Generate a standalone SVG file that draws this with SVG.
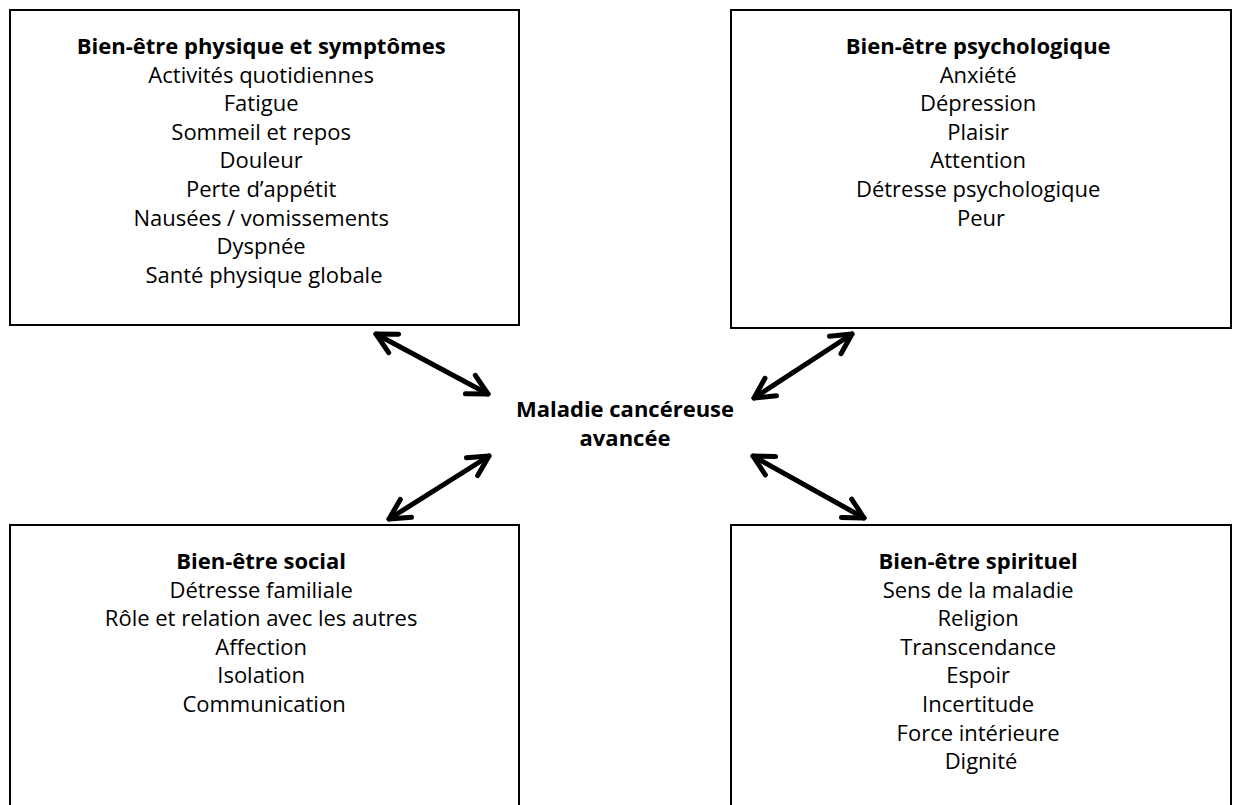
<svg xmlns="http://www.w3.org/2000/svg" width="1239" height="805" viewBox="0 0 1239 805">
<style>
.box{fill:#fff;stroke:#000;stroke-width:2}
.t{font-family:"Open Sans","Noto Sans",sans-serif;font-size:22px;fill:#000;text-anchor:middle}
.b{font-weight:bold}
.arr{fill:none;stroke:#000;stroke-width:5;stroke-linecap:round;marker-start:url(#ah);marker-end:url(#ah)}
</style>
<defs>
<marker id="ah" markerUnits="userSpaceOnUse" viewBox="-25 -15 30 30" markerWidth="30" markerHeight="30" refX="0" refY="0" orient="auto-start-reverse" overflow="visible">
<path d="M-20,-10.5 L0,0 L-20,10.5" fill="none" stroke="#000" stroke-width="5" stroke-linecap="round" stroke-linejoin="round"/>
</marker>
</defs>
<rect width="1239" height="805" fill="#fff"/>
<g id="physique">
<rect class="box" x="10" y="10" width="509" height="315"/>
<text class="t" x="264" y="54"><tspan class="b">Bien-être physique et symptômes</tspan>
<tspan x="264" dy="28.6">Activités quotidiennes</tspan>
<tspan x="264" dy="28.6">Fatigue</tspan>
<tspan x="264" dy="28.6">Sommeil et repos</tspan>
<tspan x="264" dy="28.6">Douleur</tspan>
<tspan x="264" dy="28.6">Perte d’appétit</tspan>
<tspan x="264" dy="28.6">Nausées / vomissements</tspan>
<tspan x="264" dy="28.6">Dyspnée</tspan>
<tspan x="264" dy="28.6">Santé physique globale</tspan></text>
</g>
<g id="psychologique">
<rect class="box" x="731" y="10" width="500" height="318"/>
<text class="t" x="981" y="54"><tspan class="b">Bien-être psychologique</tspan>
<tspan x="981" dy="28.6">Anxiété</tspan>
<tspan x="981" dy="28.6">Dépression</tspan>
<tspan x="981" dy="28.6">Plaisir</tspan>
<tspan x="981" dy="28.6">Attention</tspan>
<tspan x="981" dy="28.6">Détresse psychologique</tspan>
<tspan x="981" dy="28.6">Peur</tspan></text>
</g>
<g id="centre">
<text class="t b" x="625" y="417">Maladie cancéreuse</text>
<text class="t b" x="625" y="446">avancée</text>
</g>
<g id="social">
<rect class="box" x="10" y="525" width="509" height="300"/>
<text class="t" x="264" y="569"><tspan class="b">Bien-être social</tspan>
<tspan x="264" dy="28.6">Détresse familiale</tspan>
<tspan x="264" dy="28.6">Rôle et relation avec les autres</tspan>
<tspan x="264" dy="28.6">Affection</tspan>
<tspan x="264" dy="28.6">Isolation</tspan>
<tspan x="264" dy="28.6">Communication</tspan></text>
</g>
<g id="spirituel">
<rect class="box" x="731" y="525" width="500" height="300"/>
<text class="t" x="981" y="569"><tspan class="b">Bien-être spirituel</tspan>
<tspan x="981" dy="28.6">Sens de la maladie</tspan>
<tspan x="981" dy="28.6">Religion</tspan>
<tspan x="981" dy="28.6">Transcendance</tspan>
<tspan x="981" dy="28.6">Espoir</tspan>
<tspan x="981" dy="28.6">Incertitude</tspan>
<tspan x="981" dy="28.6">Force intérieure</tspan>
<tspan x="981" dy="28.6">Dignité</tspan></text>
</g>
<g id="connecteurs">
<path class="arr" d="M376,334 L488,394"/>
<path class="arr" d="M852,334 L754,398"/>
<path class="arr" d="M389,519 L489,456"/>
<path class="arr" d="M753,456 L864,518"/>
</g>
</svg>
